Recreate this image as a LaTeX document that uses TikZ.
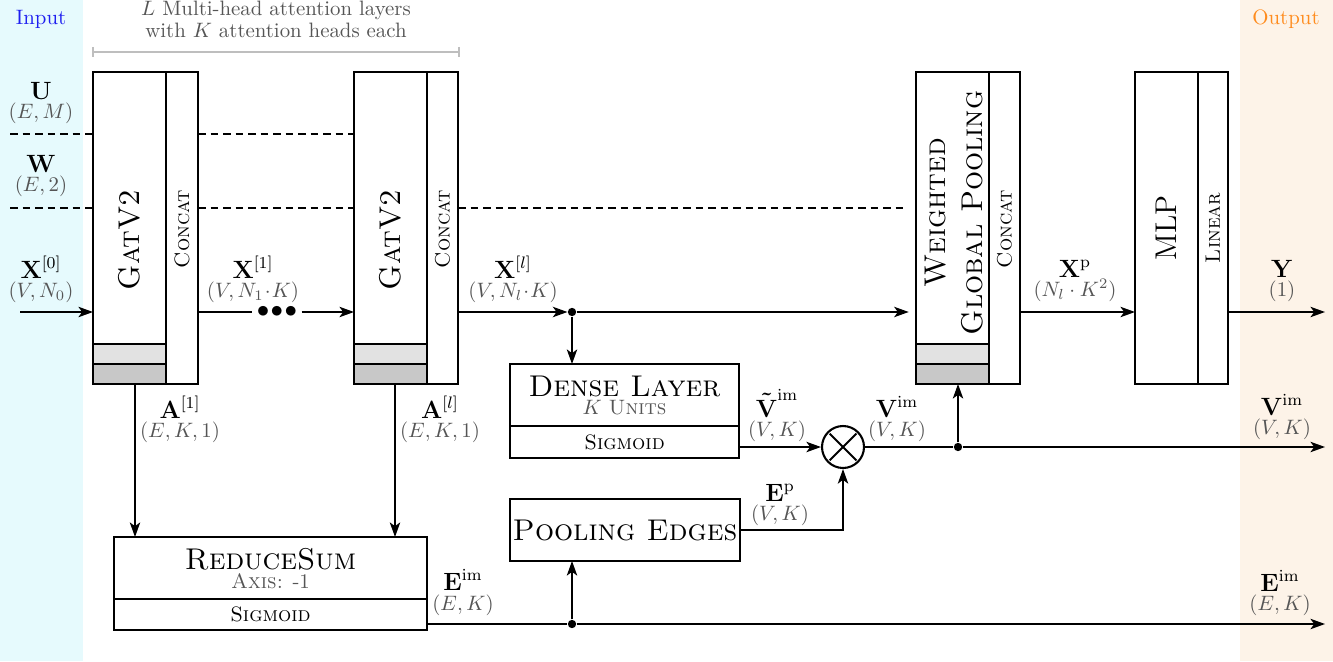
\documentclass[tikz,border=0pt]{standalone}
\usepackage{amsmath}
\usetikzlibrary{arrows.meta,calc}
\definecolor{inbg}{RGB}{230,250,253}
\definecolor{outbg}{RGB}{253,243,232}
\definecolor{striplight}{RGB}{226,226,226}
\definecolor{stripdark}{RGB}{200,200,200}
\definecolor{dimtxt}{RGB}{85,85,85}
\definecolor{bracketgray}{RGB}{190,190,190}
\definecolor{intxt}{RGB}{30,30,240}
\definecolor{outtxt}{RGB}{255,140,30}
\newcommand{\tdot}{\mkern1mu{\cdot}\mkern1mu}
\tikzset{
  blk/.style={draw, line width=1.3pt, inner sep=0pt, outer sep=0pt},
  sz/.style 2 args={minimum width=#1*0.48pt, minimum height=#2*0.48pt},
  conn/.style={line width=0.8pt},
  arr/.style={conn, -{Stealth[length=7pt,width=5pt,inset=1.8pt]}},
  junction/.style={circle, fill, inner sep=0pt, minimum size=4pt},
  lbl/.style={anchor=base, font=\large, inner sep=0.5pt},
  dimlbl/.style={anchor=base, text=dimtxt, inner sep=0.5pt},
  dsh/.style={line width=0.8pt, dash pattern=on 3.6pt off 2.4pt},
  vtext/.style={rotate=90, inner sep=0pt},
}
\begin{document}
\begin{tikzpicture}[x=0.48pt,y=-0.48pt]
\useasboundingbox (0,0) rectangle (1333,661);

% input / output bands
\fill[inbg] (0,0) rectangle (83,661);
\fill[outbg] (1240,0) rectangle (1333,661);
\node[anchor=base, text=intxt] (intitle) at (41,25) {Input};
\node[anchor=base, text=outtxt] (outtitle) at (1286,25) {Output};

% bracket over the attention layers
\node[anchor=base, text=dimtxt, inner sep=0.5pt] (brk1) at (276,16) {$L$ Multi-head attention layers};
\node[anchor=base, text=dimtxt, inner sep=0.5pt] (brk2) at (276,38) {with $K$ attention heads each};
\draw[bracketgray, line width=0.7pt] (93,47) -- (93,57) (93,52) -- (459,52) (459,47) -- (459,57);

% ---- layer blocks ----
\fill[striplight] (93,344) rectangle (166,364);
\fill[stripdark] (93,364) rectangle (166,384);
\draw[line width=1.3pt] (93,344) -- (166,344) (93,364) -- (166,364);
\node[blk, sz={73}{312}] (gat1) at (129.5,228) {};
\node[blk, sz={32}{312}] (cat1) at (182,228) {};
\node[vtext, font=\Large] (gat1t) at (129.5,240) {\textsc{GatV2}};
\node[vtext] (cat1t) at (182,229) {\textsc{Concat}};

\fill[striplight] (354,344) rectangle (427,364);
\fill[stripdark] (354,364) rectangle (427,384);
\draw[line width=1.3pt] (354,344) -- (427,344) (354,364) -- (427,364);
\node[blk, sz={73}{312}] (gat2) at (390.5,228) {};
\node[blk, sz={31}{312}] (cat2) at (442.5,228) {};
\node[vtext, font=\Large] (gat2t) at (390.5,240) {\textsc{GatV2}};
\node[vtext] (cat2t) at (442.5,229) {\textsc{Concat}};

\fill[striplight] (916,344) rectangle (989,364);
\fill[stripdark] (916,364) rectangle (989,384);
\draw[line width=1.3pt] (916,344) -- (989,344) (916,364) -- (989,364);
\node[blk, sz={73}{312}] (wgp) at (952.5,228) {};
\node[blk, sz={31}{312}] (cat3) at (1004.5,228) {};
\node[vtext, font=\Large, align=center] (wgpt) at (954,213) {\textsc{Weighted}\\\textsc{Global Pooling}};
\node[vtext] (cat3t) at (1004.5,229) {\textsc{Concat}};

\node[blk, sz={63}{312}] (mlp) at (1166.5,228) {};
\node[blk, sz={30}{312}] (lin) at (1213,228) {};
\node[vtext, font=\Large] (mlpt) at (1166.5,228) {MLP};
\node[vtext] (lint) at (1213,228) {\textsc{Linear}};

% ---- dense layer ----
\node[blk, sz={229}{62}] (dense) at (624.5,395) {};
\node[blk, sz={229}{32}] (densesig) at (624.5,442) {\textsc{Sigmoid}};
\node[anchor=base, font=\Large, inner sep=0.5pt] (denset) at (624.5,396) {\textsc{Dense Layer}};
\node[anchor=base, text=dimtxt, inner sep=0.5pt] (denseu) at (624.5,414) {$K$ \textsc{Units}};

% ---- pooling edges ----
\node[blk, sz={230}{62}, font=\Large] (pool) at (625,530) {\textsc{Pooling Edges}};

% ---- reduce sum ----
\node[blk, sz={313}{62}] (rs) at (270.5,568) {};
\node[blk, sz={313}{31}] (rsig) at (270.5,614.5) {\textsc{Sigmoid}};
\node[anchor=base, font=\Large, inner sep=0.5pt] (rst) at (270.5,569) {\textsc{ReduceSum}};
\node[anchor=base, text=dimtxt, inner sep=0.5pt] (rsa) at (270.5,588) {\textsc{Axis:} -1};

% ---- multiplication ----
\node[circle, draw, line width=1pt, minimum size=42*0.48pt, inner sep=0pt] (mult) at (843,447) {};
\draw[line width=0.9pt, shorten >=1.5pt, shorten <=1.5pt] (mult.north west) -- (mult.south east);
\draw[line width=0.9pt, shorten >=1.5pt, shorten <=1.5pt] (mult.north east) -- (mult.south west);

% ---- dashed inputs U and W ----
\coordinate (u0) at (10,134);
\coordinate (w0) at (10,208);
\draw[dsh] (u0) -- (u0 -| gat1.west);
\draw[dsh] (u0 -| cat1.east) -- (u0 -| gat2.west);
\draw[dsh] (w0) -- (w0 -| gat1.west);
\draw[dsh] (w0 -| cat1.east) -- (w0 -| gat2.west);
\draw[dsh, shorten >=5pt] (w0 -| cat2.east) -- (w0 -| wgp.west);

% ---- node feature path ----
\coordinate (in0) at (20,312);
\draw[arr] (in0) -- (in0 -| gat1.west);
\node[fill=white, inner xsep=2pt, inner ysep=0pt] (dots) at (277,312) {\large$\bullet\mkern-3mu\bullet\mkern-3mu\bullet$};
\draw[conn] (in0 -| cat1.east) -- (dots.west);
\draw[arr] (dots.east) -- (in0 -| gat2.west);
\node[junction] (sp1) at (572,312) {};
\draw[arr] (in0 -| cat2.east) -- (sp1);
\draw[arr, shorten >=3.5pt] (sp1) -- (in0 -| wgp.west);
\draw[arr] (sp1) -- (sp1 |- dense.north);
\draw[arr] (in0 -| cat3.east) -- (in0 -| mlp.west);
\coordinate (outY) at (1325,312);
\draw[arr] (in0 -| lin.east) -- (outY);

% ---- node importance path ----
\draw[arr] (densesig.east |- mult) -- (mult);
\node[junction] (sp2) at (958,447) {};
\coordinate (outV) at (1325,447);
\draw[conn] (mult) -- (sp2);
\draw[arr] (sp2) -- (outV);
\draw[arr] (sp2) -- (sp2 |- wgp.south);
\draw[arr] (pool.east) -| (mult.south);

% ---- attention to reduce sum ----
\coordinate (a1) at (135,384);
\coordinate (al) at (395,384);
\draw[arr] (a1) -- (a1 |- rs.north);
\draw[arr] (al) -- (al |- rs.north);

% ---- edge importance path ----
\node[junction] (sp3) at (572,624) {};
\coordinate (outE) at (1325,624);
\draw[conn] (rsig.east |- sp3) -- (sp3);
\draw[arr] (sp3) -- (outE);
\draw[arr] (sp3) -- (sp3 |- pool.south);

% ---- tensor labels ----
\node[lbl] (lU) at (41,100) {$\mathbf{U}$};
\node[dimlbl] (dU) at (41,119) {$(E,M)$};
\node[lbl] (lW) at (41,173) {$\mathbf{W}$};
\node[dimlbl] (dW) at (41,192) {$(E,2)$};
\node[lbl] (lX0) at (41,278) {$\mathbf{X}^{[0]}$};
\node[dimlbl] (dX0) at (41,297) {$(V,N_0)$};
\node[lbl] (lX1) at (253,278) {$\mathbf{X}^{[1]}$};
\node[dimlbl] (dX1) at (253,297) {$(V,N_1\tdot K)$};
\node[lbl] (lXl) at (513,278) {$\mathbf{X}^{[l]}$};
\node[dimlbl] (dXl) at (513,297) {$(V,N_l\tdot K)$};
\node[lbl] (lXp) at (1075,277) {$\mathbf{X}^{\mathrm{p}}$};
\node[dimlbl] (dXp) at (1075,296) {$(N_l\cdot K^2)$};
\node[lbl] (lY) at (1282,277) {$\mathbf{Y}$};
\node[dimlbl] (dY) at (1282,296) {$(1)$};
\node[lbl] (lA1) at (180,418) {$\mathbf{A}^{[1]}$};
\node[dimlbl] (dA1) at (180,437) {$(E,K,1)$};
\node[lbl] (lAl) at (440,418) {$\mathbf{A}^{[l]}$};
\node[dimlbl] (dAl) at (440,437) {$(E,K,1)$};
\node[lbl] (lVt) at (777,417) {$\boldsymbol{\tilde{\mathbf{V}}}^{\mathrm{im}}$};
\node[dimlbl] (dVt) at (777,436) {$(V,K)$};
\node[lbl] (lV) at (897,417) {$\mathbf{V}^{\mathrm{im}}$};
\node[dimlbl] (dV) at (897,436) {$(V,K)$};
\node[lbl] (lVo) at (1282,415) {$\mathbf{V}^{\mathrm{im}}$};
\node[dimlbl] (dVo) at (1282,434) {$(V,K)$};
\node[lbl] (lEp) at (780,501) {$\mathbf{E}^{\mathrm{p}}$};
\node[dimlbl] (dEp) at (780,520) {$(V,K)$};
\node[lbl] (lE) at (463,590) {$\mathbf{E}^{\mathrm{im}}$};
\node[dimlbl] (dE) at (463,610) {$(E,K)$};
\node[lbl] (lEo) at (1280,591) {$\mathbf{E}^{\mathrm{im}}$};
\node[dimlbl] (dEo) at (1280,610) {$(E,K)$};
\end{tikzpicture}
\end{document}
